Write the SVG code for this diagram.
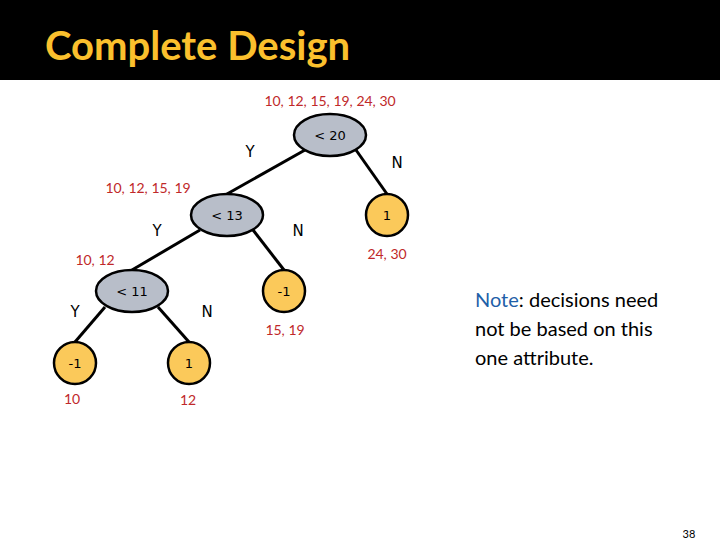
<svg xmlns="http://www.w3.org/2000/svg" width="720" height="540" viewBox="0 0 720 540">
<style>
.dec{fill:#b8bec9;stroke:#000;stroke-width:2.5}
.leaf{fill:#fbc95a;stroke:#000;stroke-width:2.5}
.t{font-family:"DejaVu Sans",sans-serif;font-size:13px;text-anchor:middle;fill:#000}
.s{font-family:Lato,"DejaVu Sans",sans-serif;font-size:14px;fill:#c0282a;text-anchor:middle}
.yn{font-family:"DejaVu Sans",sans-serif;font-size:15px;fill:#000;text-anchor:middle}
.c line{stroke:#000;stroke-width:3}
</style>
<rect width="720" height="540" fill="#fff"/>
<rect width="720" height="80" fill="#000"/>
<text x="45" y="60" font-family="Lato,'Open Sans',sans-serif" font-size="40" font-weight="bold" fill="#fbc02d">Complete Design</text>
<g class="c" id="connectors">
<line x1="305" y1="150" x2="227" y2="194"/>
<line x1="356" y1="150" x2="387" y2="194"/>
<line x1="253" y1="230" x2="284" y2="270"/>
<line x1="200" y1="230" x2="132" y2="270"/>
<line x1="105" y1="307" x2="75" y2="342"/>
<line x1="158" y1="307" x2="189" y2="342"/>
</g>
<g id="n20"><ellipse class="dec" cx="330" cy="135" rx="36" ry="21"/><text class="t" x="330" y="140">&lt; 20</text></g>
<g id="n13"><ellipse class="dec" cx="227" cy="215" rx="36" ry="21"/><text class="t" x="227" y="220">&lt; 13</text></g>
<g id="n11"><ellipse class="dec" cx="132" cy="291" rx="36" ry="21"/><text class="t" x="132" y="296">&lt; 11</text></g>
<g id="l1a"><circle class="leaf" cx="387" cy="215" r="21"/><text class="t" x="387" y="220">1</text></g>
<g id="lm1a"><circle class="leaf" cx="284" cy="291" r="21"/><text class="t" x="284" y="296">-1</text></g>
<g id="lm1b"><circle class="leaf" cx="75" cy="363" r="21"/><text class="t" x="75" y="368">-1</text></g>
<g id="l1b"><circle class="leaf" cx="189" cy="363" r="21"/><text class="t" x="189" y="368">1</text></g>
<g id="labels">
<text class="s" x="330" y="106">10, 12, 15, 19, 24, 30</text>
<text class="s" x="148" y="193">10, 12, 15, 19</text>
<text class="s" x="95" y="265">10, 12</text>
<text class="s" x="387" y="259">24, 30</text>
<text class="s" x="285" y="335">15, 19</text>
<text class="s" x="72" y="404">10</text>
<text class="s" x="188" y="405">12</text>
<text class="yn" x="250" y="157">Y</text>
<text class="yn" x="397" y="168">N</text>
<text class="yn" x="157" y="236">Y</text>
<text class="yn" x="298" y="236">N</text>
<text class="yn" x="75" y="317">Y</text>
<text class="yn" x="207" y="317">N</text>
</g>
<g font-family="Lato,'Open Sans',sans-serif" font-size="20" fill="#000">
<text x="475" y="307"><tspan fill="#1f5fa8">Note</tspan>: decisions need</text>
<text x="475" y="336">not be based on this</text>
<text x="475" y="365">one attribute.</text>
</g>
<text x="689" y="538" font-family="Lato,sans-serif" font-size="11" text-anchor="middle" fill="#000">38</text>
</svg>
